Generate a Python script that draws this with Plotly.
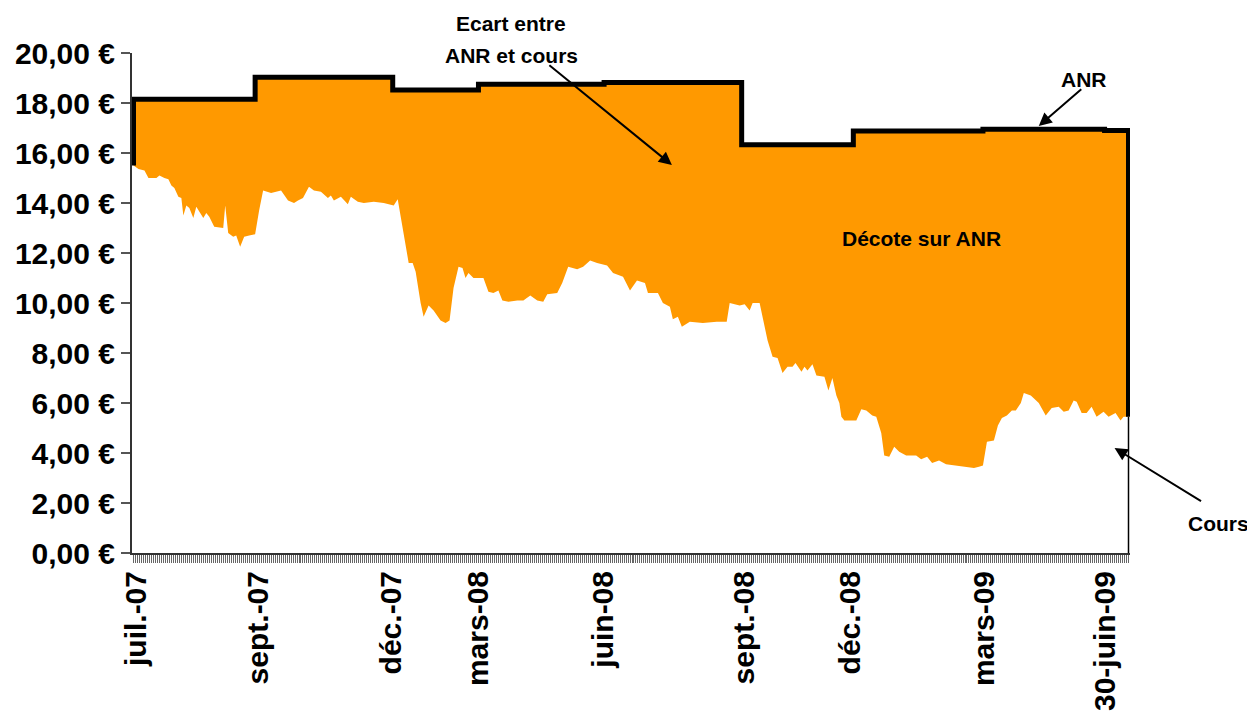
import plotly.graph_objects as go

# ---- data ----
# trading-session index since July 2007 and share price (€)
cours_seance = [0, 2.5, 5.5, 7.5, 11.5, 13, 15.5, 17.5, 19, 20.5, 22.5, 24, 25, 26.5, 28, 30, 31.5, 33, 35,
                36.5, 38, 40.5, 45, 46, 47.5, 50, 51.5, 53.5, 55.5, 58, 61, 63, 65, 69, 74, 77.5, 80.5, 82.5,
                85, 88, 90.5, 94, 97.5, 99, 100.5, 104, 107.5, 109, 112.5, 115.5, 120.5, 125.5, 130.5, 132.5,
                135.5, 138, 140, 141.5, 144, 145.5, 148, 150.5, 154, 156.5, 158.5, 160.5, 163, 165, 166.5,
                168, 170.5, 175.5, 178, 180.5, 183, 185, 188, 192.5, 195.5, 199, 202.5, 205.5, 207.5, 212.5,
                215, 218, 222.5, 225.5, 229, 232.5, 237.5, 240.5, 245.5, 249, 252.5, 256.5, 258, 260.5, 263,
                265.5, 269, 270.5, 273, 275, 279, 285.5, 292.5, 297.5, 299, 304, 306.5, 309, 310.5, 314,
                315.5, 318, 320.5, 323, 325.5, 328, 330.5, 332, 335, 336.5, 338, 340.5, 342.5, 346.5, 348.5,
                350.5, 352.5, 354, 355, 356.5, 362.5, 365, 367.5, 370.5, 372.5, 375, 376.5, 379, 381.5, 384,
                387.5, 392.5, 395, 398, 400.5, 404, 407.5, 412.5, 419, 421.5, 424, 426, 428, 431.5, 433.5,
                435.5, 438, 440.5, 442.5, 445, 446.5, 450, 454, 457.5, 460.5, 464, 466.5, 469, 471.5, 473,
                475.5, 478, 480.5, 483, 486.5, 489, 492.5, 495, 496.5, 499]
cours_eur = [15.5, 15.36, 15.3, 15.0, 15.0, 15.1, 15.0, 14.95, 14.7, 14.6, 14.25, 14.2, 13.5, 13.9, 13.8, 13.4,
             13.85, 13.65, 13.4, 13.6, 13.45, 13.05, 13.0, 13.9, 12.8, 12.65, 12.7, 12.25, 12.65, 12.7, 12.75,
             13.7, 14.5, 14.4, 14.5, 14.1, 14.0, 14.1, 14.2, 14.65, 14.5, 14.45, 14.2, 14.3, 14.1, 14.25,
             13.95, 14.25, 14.05, 14.0, 14.05, 14.0, 13.9, 14.15, 12.8, 11.6, 11.6, 11.25, 10.0, 9.45, 9.9,
             9.7, 9.3, 9.2, 9.3, 10.6, 11.45, 11.4, 11.0, 11.2, 11.0, 11.0, 10.45, 10.4, 10.5, 10.1, 10.05,
             10.1, 10.1, 10.3, 10.1, 10.05, 10.35, 10.4, 10.8, 11.45, 11.35, 11.45, 11.7, 11.6, 11.5, 11.2,
             11.05, 10.5, 10.9, 10.8, 10.4, 10.4, 10.4, 10.0, 9.85, 9.35, 9.45, 9.05, 9.25, 9.2, 9.25, 9.25,
             10.0, 9.9, 9.95, 9.7, 10.0, 10.0, 9.45, 8.5, 7.85, 7.8, 7.2, 7.45, 7.45, 7.6, 7.25, 7.45, 7.3,
             7.55, 7.1, 7.05, 6.5, 7.0, 6.3, 6.0, 5.45, 5.3, 5.3, 5.75, 5.7, 5.5, 5.45, 4.8, 3.9, 3.85, 4.25,
             4.05, 3.9, 3.9, 3.75, 3.85, 3.6, 3.7, 3.55, 3.5, 3.45, 3.4, 3.45, 3.5, 4.45, 4.5, 5.1, 5.4, 5.5,
             5.7, 5.7, 6.0, 6.4, 6.3, 6.0, 5.5, 5.8, 5.85, 5.65, 5.7, 6.1, 6.05, 5.6, 5.6, 5.85, 5.45, 5.65,
             5.45, 5.6, 5.3, 5.45, 5.45]

# ANR (net asset value per share): session where each value starts, and value (€)
anr_debut = [0, 61, 130, 173, 236, 305, 361, 426, 487]
anr_eur = [18.15, 19.03, 18.52, 18.75, 18.82, 16.33, 16.88, 16.95, 16.90]

# x-axis labels
mois_pos = [1.5, 62.5, 129.5, 173, 235.5, 306.5, 359.5, 426.5, 487.5]
mois_lbl = ["juil.-07", "sept.-07", "déc.-07", "mars-08", "juin-08",
            "sept.-08", "déc.-08", "mars-09", "30-juin-09"]
y_ticks = [0, 2, 4, 6, 8, 10, 12, 14, 16, 18, 20]
y_lbl = [f"{v:.2f}".replace(".", ",") + " €" for v in y_ticks]

# ---- figure ----
FONT = "Liberation Sans, Arial, sans-serif"
ORANGE = "#FF9900"
last = cours_seance[-1]

fig = go.Figure()

# lower boundary of the orange area (share price)
fig.add_trace(go.Scatter(x=cours_seance, y=cours_eur, mode="lines",
                         line=dict(width=0, color=ORANGE), hoverinfo="skip"))
# orange gap between ANR and price
fig.add_trace(go.Scatter(x=anr_debut + [last], y=anr_eur + [anr_eur[-1]], mode="lines",
                         line=dict(width=0, shape="hv", color=ORANGE),
                         fill="tonexty", fillcolor=ORANGE, hoverinfo="skip"))
# ANR thick black step line (closed down to price at both ends)
fig.add_trace(go.Scatter(x=[cours_seance[0]] + anr_debut + [last, last],
                         y=[cours_eur[0]] + anr_eur + [anr_eur[-1], cours_eur[-1]],
                         mode="lines", line=dict(width=5, shape="hv", color="black")))
# thin right edge of the price area
fig.add_trace(go.Scatter(x=[last, last], y=[cours_eur[-1], 0], mode="lines",
                         line=dict(width=1.5, color="black")))

# the page body has an 8px margin: the figure is sized/offset to compensate
fig.update_layout(
    width=1247, height=709,
    margin=dict(l=124, r=125, t=45, b=164, autoexpand=False),
    paper_bgcolor="white", plot_bgcolor="white",
    showlegend=False,
    font=dict(family=FONT, color="black"),
)

fig.update_yaxes(range=[0, 20], tickmode="array", tickvals=y_ticks, ticktext=y_lbl,
                 automargin=False, showgrid=False, zeroline=False,
                 showline=True, linecolor="#333", linewidth=2,
                 ticks="outside", ticklen=9, tickcolor="#555", tickwidth=1.5,
                 tickfont=dict(family=FONT, size=30, weight="bold", color="black"))

fig.update_xaxes(range=[-0.75, 499.75], tickmode="array", tickvals=mois_pos, ticktext=mois_lbl,
                 tickangle=-90, ticks="", showgrid=False, zeroline=False, automargin=False,
                 showline=True, linecolor="#333", linewidth=2,
                 ticklabelstandoff=4,
                 tickfont=dict(family=FONT, size=30, weight="bold", color="black"),
                 minor=dict(tickmode="linear", tick0=0, dtick=1, ticks="outside",
                            ticklen=8, tickcolor="#666", tickwidth=1, showgrid=False))

def txt(s, x, y, size=21):
    fig.add_annotation(text=s, x=x, y=y, xref="paper", yref="paper", showarrow=False,
                       xanchor="center", yanchor="middle",
                       font=dict(family=FONT, size=size, weight="bold", color="black"))

txt("Ecart entre", 0.3798, 1.058)
txt("ANR et cours", 0.3798, 0.996)
txt("Décote sur ANR", 0.7906, 0.63)
txt("ANR", 0.9539, 0.948)
txt("Cours", 1.0882, 0.06)

def arrow(x, y, ax, ay):
    fig.add_annotation(text="", x=x, y=y, xref="x", yref="y", ax=ax, ay=ay,
                       showarrow=True, arrowhead=2, arrowsize=1.3, arrowwidth=2,
                       arrowcolor="black", standoff=0)

arrow(270, 15.52, -124, -101)
arrow(454, 17.08, 44, -38)
arrow(492, 4.2, 88, 54)

fig.write_html("out.html")
